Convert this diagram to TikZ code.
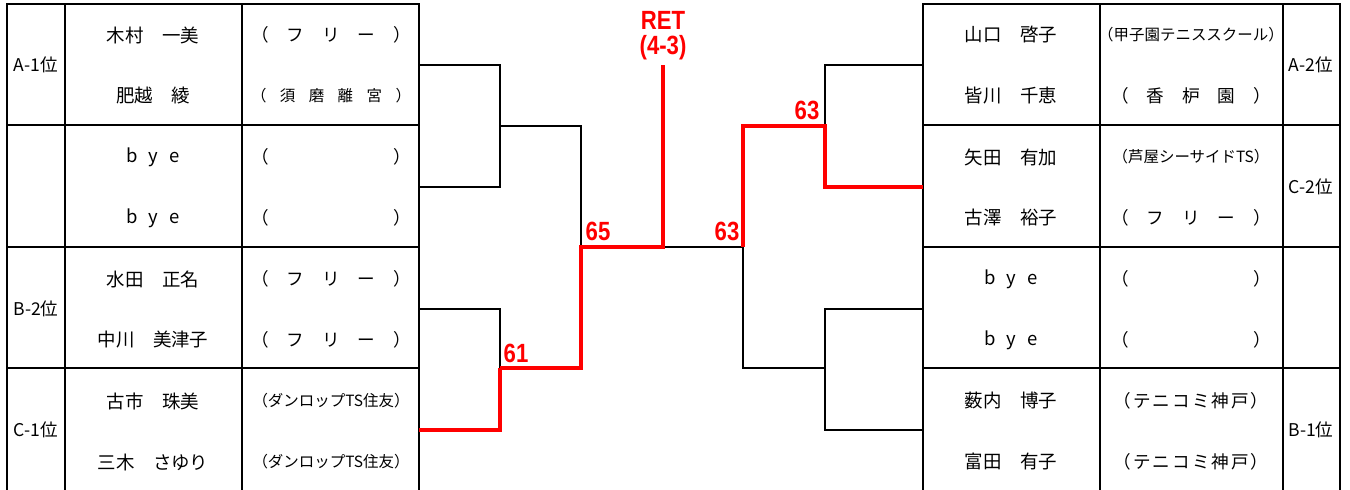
\documentclass[tikz,border=0pt]{standalone}
\usepackage{fontspec}
\setmainfont{Noto Sans CJK JP}
\newfontfamily\scorefont{Liberation Sans}
\usetikzlibrary{positioning}

\newcommand{\spreadout}[2]{\makebox[#1]{#2}}
\newcommand{\narrow}[1]{\scalebox{0.84}[1]{#1}}

\begin{document}
\begin{tikzpicture}[x=0.2mm,y=-0.2mm,
    rule/.style={line width=1.6pt},
    tree/.style={line width=1.1pt},
    win/.style={line width=2.6pt,red},
    player/.style={font=\fontsize{10.5}{12}\selectfont},
    club/.style={font=\fontsize{10}{12}\selectfont},
    smallclub/.style={font=\fontsize{8.8}{10}\selectfont},
    rank/.style={font=\fontsize{10}{12}\selectfont},
    score/.style={red,font=\scorefont\bfseries\fontsize{15}{16}\selectfont}]
\useasboundingbox (0,0) rectangle (1350,490);

% Left table
\draw[rule] (7,490) -- (7,4) -- (419,4) -- (419,490);
\foreach \x in {65,242} \draw[rule] (\x,4) -- (\x,490);
\foreach \y in {125,247,368} \draw[rule] (7,\y) -- (419,\y);

% Right table
\draw[rule] (923,490) -- (923,4) -- (1340,4) -- (1340,490);
\foreach \x in {1100,1283} \draw[rule] (\x,4) -- (\x,490);
\foreach \y in {125,247,368} \draw[rule] (923,\y) -- (1340,\y);

% Left entries
\node[rank] (rkA1) at (36,65) {A-1位};
\node[rank] (rkB2) at (36,309) {B-2位};
\node[rank] (rkC1) at (36,430) {C-1位};
\node[player] (pl1) at (153,35) {木村　一美};
\node[player] (pl2) at (153,96) {肥越　綾};
\node[player] (pl3) at (153,157) {\spreadout{10.5mm}{b\hfill y\hfill e}};
\node[player] (pl4) at (153,218) {\spreadout{10.5mm}{b\hfill y\hfill e}};
\node[player] (pl5) at (153,279) {水田　正名};
\node[player] (pl6) at (153,340) {中川　美津子};
\node[player] (pl7) at (153,401) {古市　珠美};
\node[player] (pl8) at (153,462) {三木　さゆり};
\node[club] (cl1) at (331,35) {\spreadout{32mm}{（\hfill フ\hfill リ\hfill ー\hfill ）}};
\node[smallclub] (cl2) at (331,96) {\spreadout{32mm}{（\hfill 須\hfill 磨\hfill 離\hfill 宮\hfill ）}};
\node[club] (cl3) at (331,157) {\spreadout{32mm}{（\hfill ）}};
\node[club] (cl4) at (331,218) {\spreadout{32mm}{（\hfill ）}};
\node[club] (cl5) at (331,279) {\spreadout{32mm}{（\hfill フ\hfill リ\hfill ー\hfill ）}};
\node[club] (cl6) at (331,340) {\spreadout{32mm}{（\hfill フ\hfill リ\hfill ー\hfill ）}};
\node[smallclub] (cl7) at (331,401) {（ダンロップTS住友）};
\node[smallclub] (cl8) at (331,462) {（ダンロップTS住友）};

% Right entries
\node[rank] (rkA2) at (1311,65) {A-2位};
\node[rank] (rkC2) at (1311,187) {C-2位};
\node[rank] (rkB1) at (1311,430) {B-1位};
\node[player] (pr1) at (1011,35) {山口　啓子};
\node[player] (pr2) at (1011,96) {皆川　千恵};
\node[player] (pr3) at (1011,157) {矢田　有加};
\node[player] (pr4) at (1011,218) {古澤　裕子};
\node[player] (pr5) at (1011,279) {\spreadout{10.5mm}{b\hfill y\hfill e}};
\node[player] (pr6) at (1011,340) {\spreadout{10.5mm}{b\hfill y\hfill e}};
\node[player] (pr7) at (1011,401) {薮内　博子};
\node[player] (pr8) at (1011,462) {富田　有子};
\node[smallclub] (cr1) at (1191,35) {（甲子園テニススクール）};
\node[club] (cr2) at (1191,96) {\spreadout{32mm}{（\hfill 香\hfill 枦\hfill 園\hfill ）}};
\node[smallclub] (cr3) at (1191,157) {（芦屋シーサイドTS）};
\node[club] (cr4) at (1191,218) {\spreadout{32mm}{（\hfill フ\hfill リ\hfill ー\hfill ）}};
\node[club] (cr5) at (1191,279) {\spreadout{32mm}{（\hfill ）}};
\node[club] (cr6) at (1191,340) {\spreadout{32mm}{（\hfill ）}};
\node[club] (cr7) at (1191,401) {\spreadout{31mm}{（\hfill テ\hfill ニ\hfill コ\hfill ミ\hfill 神\hfill 戸\hfill ）}};
\node[club] (cr8) at (1191,462) {\spreadout{31mm}{（\hfill テ\hfill ニ\hfill コ\hfill ミ\hfill 神\hfill 戸\hfill ）}};

% Slots on the table edges and bracket joints
\coordinate (l1) at (419,65);
\coordinate (l2) at (419,187);
\coordinate (l3) at (419,309);
\coordinate (l4) at (419,430);
\coordinate (r1) at (923,65);
\coordinate (r2) at (923,187);
\coordinate (r3) at (923,309);
\coordinate (r4) at (923,430);
\coordinate (jA) at (500,126);
\coordinate (jB) at (500,368);
\coordinate (sL) at (581,247);
\coordinate (fin) at (663,247);
\coordinate (top) at (663,65);
\coordinate (sR) at (743,247);
\coordinate (jC) at (825,126);
\coordinate (jD) at (825,368);

% Bracket lines
\draw[tree] (l1) -| (jA) |- (l2);
\draw[tree] (jA) -| (sL);
\draw[tree] (l3) -| (jB);
\draw[tree] (fin) -- (sR) |- (jD);
\draw[tree] (r3) -| (jD) |- (r4);
\draw[tree] (r1) -| (jC);

% Winners
\draw[win] (jB) |- (l4);
\draw[win] (jB) -| (sL) -- (fin) -- (top);
\draw[win] (sR) |- (jC) |- (r2);

% Scores
\node[score] (sc61) at (516,353) {\narrow{61}};
\node[score] (sc65) at (598,231) {\narrow{65}};
\node[score] (sc63a) at (727,231) {\narrow{63}};
\node[score] (sc63b) at (807,110) {\narrow{63}};
\node[score] (ret) at (663,20) {\narrow{RET}};
\node[score] (res) at (663,48) {\narrow{(4-3)}};
\end{tikzpicture}
\end{document}
